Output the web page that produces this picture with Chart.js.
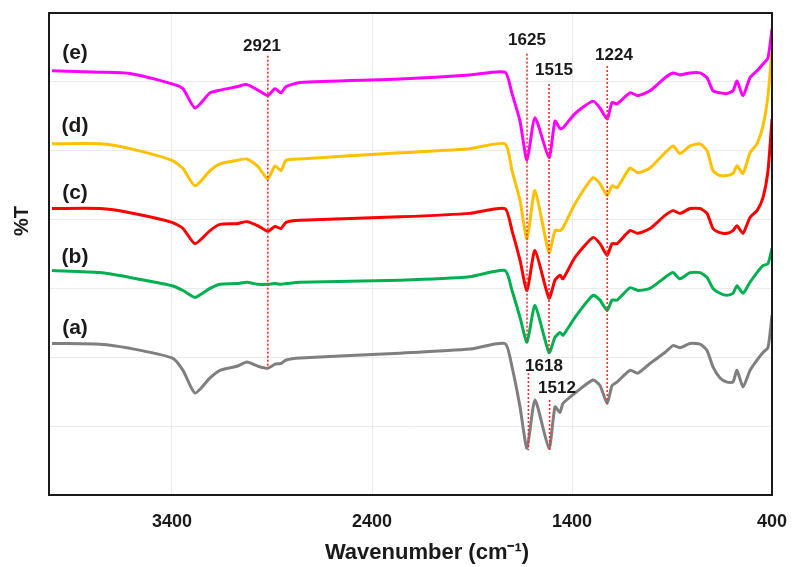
<!DOCTYPE html>
<html>
<head>
<meta charset="utf-8">
<script src="https://cdn.jsdelivr.net/npm/chart.js@4.4.1/dist/chart.umd.min.js"></script>
<style>
  html, body { margin: 0; padding: 0; background: #fff; }
  #wrap { width: 792px; height: 567px; }
</style>
</head>
<body>
<div id="wrap"><canvas id="ftir"></canvas></div>
<script>
// wavenumbers (cm-1) shared by all spectra
const wavenumbers = [
	4000, 3760, 3610, 3400, 3345, 3285, 3210, 3160, 3075, 3025,
	2970, 2921, 2885, 2855, 2830, 2760, 2260, 1910, 1735, 1700,
	1660, 1625, 1585, 1515, 1485, 1460, 1445, 1385, 1295, 1260,
	1224, 1200, 1175, 1110, 1070, 1010, 935, 895, 860, 810,
	760, 725, 695, 660, 625, 595, 575, 545, 510, 475,
	445, 420, 400,
];

// %T (offset stacked)
const transA = [
	22.0, 21.9, 21.3, 19.9, 18.1, 14.8, 17.0, 18.1, 18.7, 19.3,
	18.7, 18.4, 19.0, 19.1, 19.6, 19.9, 20.6, 21.2, 22.0, 18.6,
	12.8, 6.8, 13.8, 6.8, 12.8, 12.0, 13.3, 14.8, 16.7, 15.9,
	13.3, 15.9, 16.4, 18.1, 17.7, 19.1, 20.7, 21.7, 21.4, 22.0,
	21.9, 21.0, 18.6, 17.0, 16.4, 16.4, 18.1, 15.7, 18.1, 19.6,
	20.7, 21.4, 26.1,
];
const transB = [
	32.6, 32.3, 31.6, 30.4, 29.7, 28.7, 30.0, 30.6, 30.7, 30.9,
	30.6, 30.6, 30.7, 30.6, 30.7, 30.9, 31.2, 31.7, 32.6, 29.7,
	25.8, 22.2, 27.5, 20.7, 22.9, 23.6, 23.2, 25.8, 29.0, 28.3,
	26.8, 28.3, 28.3, 30.1, 29.7, 30.0, 31.6, 32.3, 31.4, 32.3,
	32.3, 31.6, 30.0, 29.3, 29.0, 29.3, 30.4, 29.3, 30.9, 32.3,
	33.3, 33.6, 35.8,
];
const transC = [
	41.6, 41.6, 41.0, 39.6, 38.7, 36.5, 38.4, 39.3, 39.4, 39.7,
	39.1, 38.3, 39.0, 38.7, 39.6, 39.9, 40.4, 40.9, 41.6, 38.4,
	34.1, 29.7, 35.5, 28.6, 31.2, 31.9, 31.4, 34.5, 37.4, 36.5,
	34.8, 36.5, 36.5, 38.4, 38.0, 38.7, 40.6, 41.3, 40.9, 41.6,
	41.6, 40.9, 38.7, 38.1, 38.0, 38.4, 39.1, 38.0, 40.3, 41.3,
	43.2, 47.1, 54.6,
];
const transD = [
	51.0, 51.0, 50.3, 48.6, 47.4, 44.9, 47.1, 48.1, 48.6, 48.8,
	47.7, 45.9, 47.8, 47.1, 48.6, 48.8, 49.7, 50.3, 51.0, 47.1,
	42.8, 37.2, 44.2, 35.2, 38.4, 38.4, 38.8, 42.3, 46.1, 45.2,
	43.5, 44.9, 44.6, 47.5, 46.8, 47.5, 49.7, 50.7, 49.6, 50.7,
	51.0, 50.0, 47.1, 46.4, 46.4, 46.7, 47.8, 46.7, 49.7, 51.0,
	53.6, 58.0, 64.5,
];
const transE = [
	61.6, 61.4, 61.2, 59.7, 59.0, 56.2, 58.4, 58.8, 59.3, 59.6,
	58.8, 58.0, 59.0, 58.4, 59.3, 59.9, 60.4, 61.0, 61.4, 58.3,
	54.3, 48.6, 54.8, 49.0, 54.3, 53.2, 53.3, 55.4, 57.2, 56.2,
	54.6, 57.0, 56.8, 58.4, 58.0, 58.7, 60.6, 61.3, 61.0, 61.3,
	61.3, 60.6, 58.7, 58.4, 58.3, 58.7, 60.1, 58.0, 60.6, 61.6,
	62.6, 63.5, 67.7,
];

const curveTags = ['(a)', '(b)', '(c)', '(d)', '(e)'];
const curveColors = ['#7f7f7f', '#00b050', '#ff0000', '#ffc000', '#ff00ff'];
const xTicks = [3400, 2400, 1400, 400];

// marked peaks: dotted line from top to bottom (in %T units)
const peakWn = [2921, 1625, 1515, 1224, 1618, 1512];
const peakTop = [63.8, 64.1, 59.7, 62.3, 17.7, 13.8];
const peakBottom = [18.4, 22.2, 20.7, 13.3, 6.5, 6.5];

// where the text goes
const peakLabelWn = [2950, 1625, 1490, 1190, 1540, 1475];
const peakLabelT = [65.2, 66.1, 61.7, 63.9, 18.7, 15.5];
const tagWn = 3885;
const tagT = [24.2, 34.5, 43.8, 53.5, 64.1];

const FONT = '"Liberation Sans", Arial, sans-serif';
const INK = '#1a1a1a';

const spectra = [transA, transB, transC, transD, transE].map((vals, i) => ({
	label: curveTags[i],
	data: wavenumbers.map((w, j) => ({ x: w, y: vals[j] })),
	borderColor: curveColors[i],
	borderWidth: 3,
	pointRadius: 0,
	tension: 0.2,
	order: 1,
}));

const markers = peakWn.map((w, i) => ({
	label: 'peak ' + w,
	data: [{ x: w, y: peakTop[i] }, { x: w, y: peakBottom[i] }],
	borderColor: '#ff2a2a',
	borderWidth: 1.6,
	borderDash: [2, 2],
	pointRadius: 0,
	order: 0,
}));

const annotate = {
	id: 'annotate',
	afterDraw(chart) {
		const { ctx, chartArea: a } = chart;
		const x = chart.scales.x;
		const y = chart.scales.y;
		ctx.save();
		ctx.strokeStyle = INK;
		ctx.lineWidth = 2;
		ctx.strokeRect(a.left, a.top, a.right - a.left, a.bottom - a.top);

		ctx.fillStyle = INK;
		ctx.textAlign = 'center';
		ctx.textBaseline = 'middle';
		ctx.font = 'bold 21px ' + FONT;
		curveTags.forEach((t, i) => {
			ctx.fillText(t, x.getPixelForValue(tagWn), y.getPixelForValue(tagT[i]));
		});
		ctx.font = 'bold 17px ' + FONT;
		peakWn.forEach((w, i) => {
			ctx.fillText(String(w), x.getPixelForValue(peakLabelWn[i]), y.getPixelForValue(peakLabelT[i]));
		});

		// axis titles (the x one sits a little right of centre in the original)
		ctx.font = 'bold 22px ' + FONT;
		ctx.fillText('Wavenumber (cm\u207B\u00B9)', 427, 553);

		ctx.translate(22, 221);
		ctx.rotate(-Math.PI / 2);
		ctx.font = 'bold 20px ' + FONT;
		ctx.fillText('%T', 0, 0);
		ctx.restore();
	},
};

new Chart(document.getElementById('ftir'), {
	type: 'line',
	data: { datasets: [...spectra, ...markers] },
	options: {
		responsive: true,
		maintainAspectRatio: false,
		animation: false,
		layout: { padding: { top: 13, right: 20, bottom: 0, left: 0 } },
		plugins: {
			legend: { display: false },
			tooltip: { enabled: false },
		},
		scales: {
			x: {
				type: 'linear',
				reverse: true,
				min: 400,
				max: 4015,
				afterBuildTicks: (scale) => {
					scale.ticks = xTicks.map((v) => ({ value: v }));
				},
				afterFit: (scale) => {
					scale.height = 72;
					scale.paddingLeft = 0;
					scale.paddingRight = 0;
				},
				border: { display: false },
				grid: { color: '#ebebeb', lineWidth: 1, drawTicks: false },
				ticks: {
					padding: 16,
					color: INK,
					font: { family: FONT, size: 18, weight: 'bold' },
					maxRotation: 0,
					callback: (v) => String(v),
				},
			},
			y: {
				min: 0,
				max: 70,
				afterFit: (scale) => {
					scale.width = 49;
				},
				border: { display: false },
				grid: { color: '#ebebeb', lineWidth: 1, drawTicks: false },
				ticks: { display: false, stepSize: 10 },
			},
		},
	},
	plugins: [annotate],
});
</script>
</body>
</html>
